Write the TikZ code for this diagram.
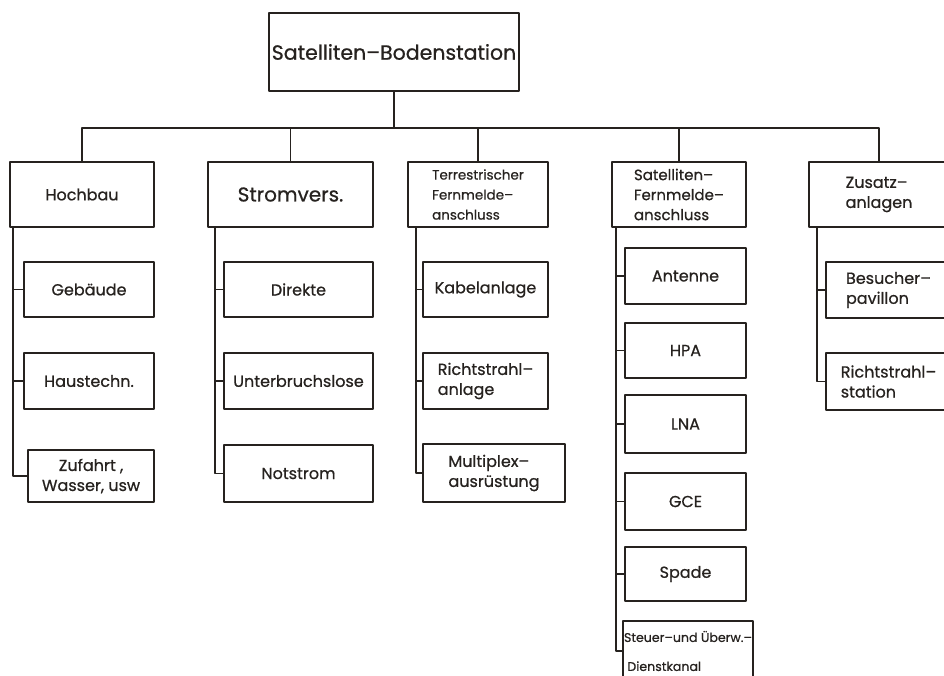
\documentclass[tikz,border=0pt]{standalone}
\usepackage{fontspec}
\setmainfont{Poppins}[FakeBold=0.7]
\definecolor{ink}{RGB}{38,34,31}
\begin{document}
\begin{tikzpicture}[x=1pt,y=-1pt,line join=round,
  box/.style={draw=ink,text=ink,line width=1.8pt,inner sep=1pt,outer sep=0pt,anchor=north west,align=center,font=\fontsize{16}{20}\selectfont},
  lbox/.style={box,align=left},
  conn/.style={draw=ink,line width=1.2pt,line cap=round}]
\useasboundingbox (0,0) rectangle (944,675);
% Kopf
\node[box,minimum width=250pt,minimum height=78pt,font=\fontsize{20.5}{26}\selectfont] (top) at (269,13) {Satelliten--Bodenstation};
% erste Ebene
\node[box,minimum width=144pt,minimum height=65pt] (hoch) at (10,162) {Hochbau};
\node[box,minimum width=165pt,minimum height=65pt,font=\fontsize{20}{26}\selectfont] (strom) at (208,162) {Stromvers.};
\node[lbox,minimum width=140pt,minimum height=65pt,font=\fontsize{13.5}{20}\selectfont] (terr) at (408,162) {Terrestrischer\\Fernmelde--\\anschluss};
\node[lbox,minimum width=134pt,minimum height=65pt,font=\fontsize{15}{20}\selectfont] (sat) at (612,162) {Satelliten--\\Fernmelde--\\anschluss};
\node[lbox,minimum width=140pt,minimum height=65pt] (zus) at (809,162) {Zusatz--\\anlagen};
% Hochbau
\node[box,minimum width=130pt,minimum height=55pt] (geb) at (24,262) {Gebäude};
\node[box,minimum width=130pt,minimum height=56pt] (haus) at (24,353) {Haustechn.};
\node[box,minimum width=126pt,minimum height=52pt] (zuf) at (28,450) {Zufahrt ,\\Wasser, usw};
% Stromversorgung
\node[box,minimum width=149pt,minimum height=55pt] (dir) at (224,262) {Direkte};
\node[box,minimum width=149pt,minimum height=56pt] (unt) at (224,353) {Unterbruchslose};
\node[box,minimum width=149pt,minimum height=57pt] (not) at (224,445) {Notstrom};
% terrestrisch
\node[box,minimum width=125pt,minimum height=55pt] (kab) at (423,262) {Kabelanlage};
\node[lbox,minimum width=125pt,minimum height=56pt] (richt) at (423,353) {Richtstrahl--\\anlage};
\node[lbox,minimum width=142pt,minimum height=58pt] (mux) at (423,444) {Multiplex--\\ausrüstung};
% Satellit
\node[box,minimum width=121pt,minimum height=56pt] (ant) at (625,248) {Antenne};
\node[box,minimum width=121pt,minimum height=55pt] (hpa) at (625,323) {HPA};
\node[box,minimum width=121pt,minimum height=58pt] (lna) at (625,395) {LNA};
\node[box,minimum width=121pt,minimum height=57pt] (gce) at (625,473) {GCE};
\node[box,minimum width=121pt,minimum height=54pt] (spa) at (625,547) {Spade};
\node[lbox,minimum width=122pt,minimum height=60pt,font=\fontsize{12.6}{29}\selectfont] (steu) at (623,621) {Steuer--und Überw.--\\\ Dienstkanal};
% Zusatz
\node[lbox,minimum width=125pt,minimum height=56pt] (bes) at (826,262) {Besucher--\\pavillon};
\node[lbox,minimum width=125pt,minimum height=57pt] (rst) at (826,353) {Richtstrahl--\\station};
% Verbindungen
\coordinate (bus) at (0,128);
\draw[conn] (top) -- (top |- bus);
\draw[conn] (hoch.north) -- (hoch.north |- bus) -| (zus.north);
\foreach \n in {strom,terr,sat} \draw[conn] (\n.north) -- (\n.north |- bus);
\coordinate (s1) at (13,0);
\coordinate (s2) at (215,0);
\coordinate (s3) at (416,0);
\coordinate (s4) at (616,0);
\coordinate (s5) at (817,0);
\draw[conn] (hoch.south -| s1) |- (zuf.west) (geb.west) -- (geb.west -| s1) (haus.west) -- (haus.west -| s1);
\draw[conn] (strom.south -| s2) |- (not.west) (dir.west) -- (dir.west -| s2) (unt.west) -- (unt.west -| s2);
\draw[conn] (terr.south -| s3) |- (mux.west) (kab.west) -- (kab.west -| s3) (richt.west) -- (richt.west -| s3);
\draw[conn] (sat.south -| s4) |- (steu.west);
\foreach \c in {ant,hpa,lna,gce,spa} \draw[conn] (\c.west) -- (\c.west -| s4);
\draw[conn] (zus.south -| s5) |- (rst.west) (bes.west) -- (bes.west -| s5);
\end{tikzpicture}
\end{document}
